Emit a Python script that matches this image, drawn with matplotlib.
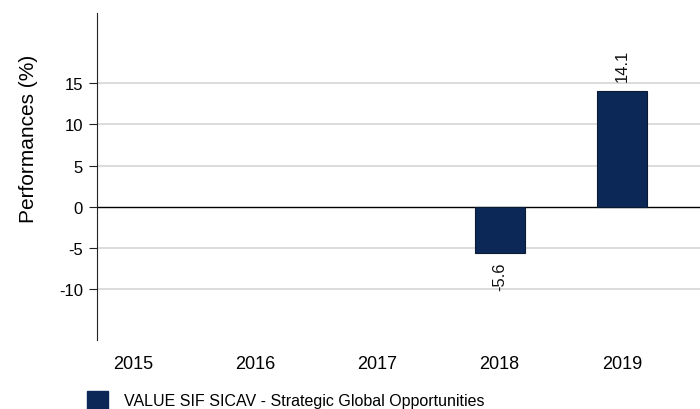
import matplotlib
matplotlib.use("Agg")
import matplotlib.pyplot as plt
from matplotlib.patches import Patch

plt.rcParams['font.family'] = ['Liberation Sans', 'DejaVu Sans']

years = ["2015", "2016", "2017", "2018", "2019"]
values = [None, None, None, -5.6, 14.1]
series_name = "VALUE SIF SICAV - Strategic Global Opportunities"
yticks = [-10, -5, 0, 5, 10, 15]

bar_color = "#0c2857"

fig = plt.figure(figsize=(7, 4.1), dpi=100)
ax = fig.add_axes([97/700, 69/410, 1 - 97/700, (340.7 - 14)/410])

xs = list(range(len(years)))
for x, v in zip(xs, values):
    if v is None:
        continue
    ax.bar(x, v, width=0.41, color=bar_color, edgecolor="#0a1a33", linewidth=0.8, zorder=3)
    if v >= 0:
        ax.annotate(f"{v:.1f}", (x, v), xytext=(0, 7), textcoords="offset points",
                    rotation=90, ha="center", va="bottom", fontsize=12, color="#111111")
    else:
        ax.annotate(f"{v:.1f}", (x, v), xytext=(0, -6), textcoords="offset points",
                    rotation=90, ha="center", va="top", fontsize=12, color="#111111")

ax.set_xlim(-0.295, 4.64)
ax.set_ylim(-16.2, 23.5)
ax.set_yticks(yticks)
ax.set_yticklabels([str(t) for t in yticks], fontsize=12)
ax.set_xticks(xs)
ax.set_xticklabels(years, fontsize=13)
ax.tick_params(axis="x", length=0, pad=11)
ax.tick_params(axis="y", length=6, width=0.8, color="#222222", pad=4)

for t in yticks:
    if t == 0:
        ax.axhline(0, color="black", linewidth=1.0, zorder=2)
    else:
        ax.axhline(t, color="#d9d9d9", linewidth=1.3, zorder=1)

for s in ["top", "right", "bottom"]:
    ax.spines[s].set_visible(False)
ax.spines["left"].set_color("#222222")
ax.spines["left"].set_linewidth(0.8)

ax.set_ylabel("Performances (%)", fontsize=15)
ax.yaxis.set_label_coords(-0.098, 0.62)

handle = Patch(facecolor=bar_color, edgecolor=bar_color)
fig.legend([handle], [series_name], loc="lower left", bbox_to_anchor=(73/700, -0.036),
           frameon=False, fontsize=11.5, handlelength=1.3, handleheight=1.4, handletextpad=1.0)

fig.savefig("out.png", dpi=100)
